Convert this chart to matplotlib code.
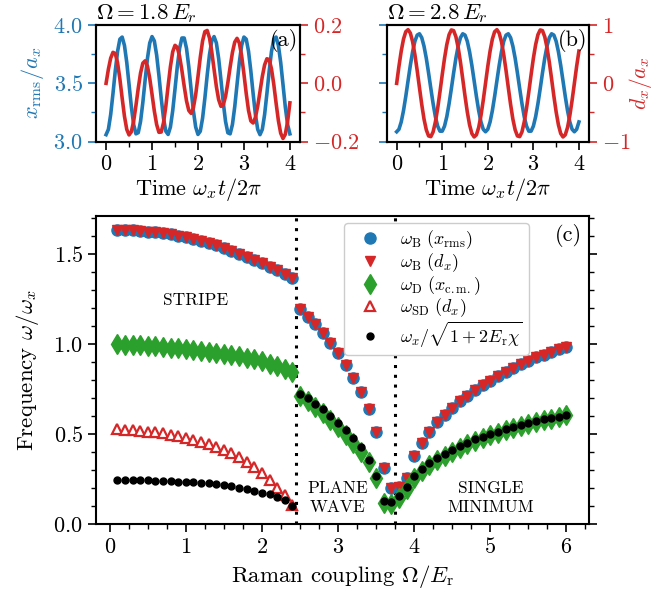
import matplotlib
matplotlib.use("Agg")
import matplotlib.pyplot as plt
import numpy as np
from matplotlib.ticker import MultipleLocator

plt.rcParams.update({
    "font.family": "serif",
    "font.serif": ["cmr10"],
    "mathtext.fontset": "cm",
    "axes.formatter.use_mathtext": True,
    "font.size": 16,
    "axes.linewidth": 1.5,
    "xtick.major.width": 1.2,
    "ytick.major.width": 1.2,
    "xtick.minor.width": 1.0,
    "ytick.minor.width": 1.0,
    "xtick.major.size": 6,
    "ytick.major.size": 6,
    "xtick.minor.size": 3.5,
    "ytick.minor.size": 3.5,
})

BLUE = "#1f77b4"
RED = "#d62728"
GREEN = "#2ca02c"

# --- time traces, sampled every 0.05 in units of 2*pi/omega_x ---
time = np.linspace(0, 4, 81)

xrms_18 = [3.060, 3.105, 3.232, 3.412, 3.606, 3.773, 3.878, 3.896, 3.824, 3.679,
           3.490, 3.299, 3.147, 3.067, 3.077, 3.173, 3.336, 3.529, 3.712, 3.845,
           3.900, 3.863, 3.743, 3.567, 3.372, 3.200, 3.089, 3.062, 3.125, 3.265,
           3.451, 3.643, 3.800, 3.888, 3.888, 3.800, 3.642, 3.450, 3.264, 3.125,
           3.062, 3.089, 3.201, 3.373, 3.568, 3.744, 3.863, 3.900, 3.846, 3.712,
           3.529, 3.335, 3.173, 3.076, 3.067, 3.147, 3.299, 3.490, 3.679, 3.824,
           3.896, 3.878, 3.774, 3.606, 3.412, 3.232, 3.105, 3.060, 3.105, 3.232,
           3.412, 3.606, 3.773, 3.878, 3.896, 3.824, 3.679, 3.490, 3.299, 3.147,
           3.067]
dx_18 = [0.000, 0.048, 0.086, 0.106, 0.102, 0.070, 0.015, -0.051, -0.113, -0.158,
         -0.177, -0.166, -0.130, -0.076, -0.017, 0.035, 0.069, 0.077, 0.059, 0.017,
         -0.038, -0.095, -0.141, -0.168, -0.167, -0.135, -0.079, -0.009, 0.057, 0.108,
         0.130, 0.123, 0.092, 0.044, -0.010, -0.060, -0.093, -0.103, -0.084, -0.039,
         0.023, 0.089, 0.145, 0.177, 0.181, 0.156, 0.108, 0.048, -0.011, -0.056,
         -0.079, -0.074, -0.045, 0.002, 0.056, 0.106, 0.141, 0.154, 0.138, 0.094,
         0.032, -0.035, -0.093, -0.129, -0.136, -0.117, -0.078, -0.028, 0.023, 0.063,
         0.084, 0.081, 0.049, -0.004, -0.068, -0.128, -0.171, -0.189, -0.175, -0.132,
         -0.067]
xrms_28 = [3.085, 3.106, 3.169, 3.266, 3.388, 3.522, 3.654, 3.770, 3.860, 3.913,
           3.924, 3.891, 3.818, 3.715, 3.589, 3.455, 3.325, 3.213, 3.133, 3.090,
           3.090, 3.133, 3.214, 3.325, 3.454, 3.589, 3.715, 3.819, 3.891, 3.924,
           3.913, 3.860, 3.770, 3.654, 3.522, 3.388, 3.266, 3.169, 3.106, 3.085,
           3.106, 3.169, 3.266, 3.388, 3.522, 3.654, 3.770, 3.860, 3.913, 3.924,
           3.891, 3.818, 3.715, 3.589, 3.455, 3.325, 3.213, 3.133, 3.090, 3.090,
           3.133, 3.214, 3.325, 3.454, 3.589, 3.715, 3.819, 3.891, 3.924, 3.913,
           3.860, 3.770, 3.654, 3.522, 3.388, 3.266, 3.169, 3.106, 3.085, 3.106,
           3.169]
dx_28 = [0.000, 0.292, 0.552, 0.757, 0.884, 0.919, 0.860, 0.713, 0.490, 0.220,
         -0.074, -0.361, -0.613, -0.797, -0.902, -0.914, -0.832, -0.661, -0.427, -0.147,
         0.147, 0.427, 0.663, 0.832, 0.914, 0.902, 0.797, 0.611, 0.361, 0.074,
         -0.220, -0.491, -0.712, -0.860, -0.919, -0.883, -0.757, -0.553, -0.291, 0.000,
         0.292, 0.552, 0.757, 0.884, 0.919, 0.860, 0.713, 0.490, 0.220, -0.074,
         -0.361, -0.613, -0.797, -0.902, -0.914, -0.832, -0.661, -0.427, -0.147, 0.147,
         0.427, 0.663, 0.832, 0.914, 0.902, 0.797, 0.611, 0.361, 0.074, -0.220,
         -0.491, -0.712, -0.860, -0.919, -0.883, -0.757, -0.553, -0.291, 0.000, 0.292,
         0.552]

# --- mode frequencies vs Raman coupling ---
raman = [0.1, 0.2, 0.3, 0.4, 0.5, 0.6, 0.7, 0.8, 0.9, 1.0,
         1.1, 1.2, 1.3, 1.4, 1.5, 1.6, 1.7, 1.8, 1.9, 2.0,
         2.1, 2.2, 2.3, 2.4, 2.5, 2.6, 2.7, 2.8, 2.9, 3.0,
         3.1, 3.2, 3.3, 3.4, 3.5, 3.6, 3.7, 3.8, 3.9, 4.0,
         4.1, 4.2, 4.3, 4.4, 4.5, 4.6, 4.7, 4.8, 4.9, 5.0,
         5.1, 5.2, 5.3, 5.4, 5.5, 5.6, 5.7, 5.8, 5.9, 6.0]
omega_breathing = [1.634, 1.633, 1.631, 1.628, 1.624, 1.620, 1.615, 1.609, 1.602, 1.594,
                   1.584, 1.573, 1.561, 1.548, 1.533, 1.518, 1.502, 1.485, 1.467, 1.449,
                   1.430, 1.410, 1.388, 1.365, 1.194, 1.152, 1.109, 1.059, 1.007, 0.948,
                   0.883, 0.813, 0.731, 0.639, 0.513, 0.309, 0.200, 0.204, 0.257, 0.378,
                   0.452, 0.511, 0.567, 0.606, 0.646, 0.685, 0.713, 0.743, 0.770, 0.796,
                   0.822, 0.844, 0.865, 0.887, 0.907, 0.926, 0.941, 0.957, 0.970, 0.985]
omega_dipole = [0.998, 0.997, 0.995, 0.992, 0.989, 0.986, 0.983, 0.979, 0.975, 0.971,
                0.967, 0.962, 0.957, 0.952, 0.946, 0.939, 0.931, 0.923, 0.914, 0.904,
                0.891, 0.876, 0.861, 0.846, 0.711, 0.683, 0.652, 0.618, 0.578, 0.537,
                0.494, 0.452, 0.402, 0.346, 0.254, 0.118, 0.112, 0.143, 0.193, 0.254,
                0.292, 0.326, 0.355, 0.380, 0.403, 0.425, 0.445, 0.464, 0.479, 0.494,
                0.508, 0.521, 0.532, 0.544, 0.555, 0.566, 0.577, 0.586, 0.593, 0.603]
omega_chi = [0.244, 0.244, 0.244, 0.243, 0.243, 0.241, 0.239, 0.237, 0.235, 0.233,
             0.232, 0.230, 0.226, 0.220, 0.215, 0.209, 0.200, 0.193, 0.183, 0.174,
             0.165, 0.148, 0.133, 0.102, 0.724, 0.698, 0.667, 0.637, 0.602, 0.563,
             0.522, 0.476, 0.430, 0.356, 0.267, 0.128, 0.124, 0.158, 0.207, 0.269,
             0.304, 0.337, 0.365, 0.389, 0.411, 0.433, 0.452, 0.471, 0.485, 0.500,
             0.513, 0.526, 0.537, 0.548, 0.559, 0.570, 0.581, 0.589, 0.596, 0.606]
raman_stripe = raman[:24]
omega_spin_dipole = [0.526, 0.524, 0.520, 0.519, 0.513, 0.509, 0.504, 0.496, 0.487, 0.478,
                     0.467, 0.456, 0.443, 0.428, 0.411, 0.393, 0.370, 0.346, 0.319, 0.285,
                     0.244, 0.198, 0.159, 0.106]
transitions = [2.45, 3.75]


fig = plt.figure(figsize=(6.56, 6.08), dpi=100)

panels = [
    ([0.1463, 0.767, 0.311, 0.192], xrms_18, dx_18, r"$\Omega = 1.8\,E_r$", "(a)", (-0.2, 0.2), 0.1),
    ([0.5894, 0.767, 0.3084, 0.192], xrms_28, dx_28, r"$\Omega = 2.8\,E_r$", "(b)", (-1.0, 1.0), 0.5),
]
for i, (rect, xrms, dx, title, tag, dlim, dminor) in enumerate(panels):
    ax = fig.add_axes(rect)
    ax.plot(time, xrms, color=BLUE, lw=2.6)
    ax.set_ylim(3.0, 4.0)
    ax.set_xlim(-0.22, 4.22)
    ax.xaxis.set_major_locator(MultipleLocator(1))
    ax.xaxis.set_minor_locator(MultipleLocator(0.5))
    ax.yaxis.set_major_locator(MultipleLocator(0.5))
    ax.yaxis.set_minor_locator(MultipleLocator(0.25))
    ax.tick_params(which="both", direction="out", top=False)
    ax.tick_params(axis="y", which="both", colors=BLUE)
    ax.set_xlabel(r"Time $\omega_x t/2\pi$", labelpad=1)
    ax.set_title(title, loc="left", pad=4, fontsize=16.5)
    if i == 0:
        ax.set_ylabel(r"$x_{\rm rms}/a_x$", color=BLUE, labelpad=5)
    else:
        ax.tick_params(axis="y", labelleft=False)

    tw = ax.twinx()
    tw.plot(time, dx, color=RED, lw=2.6)
    tw.set_ylim(*dlim)
    tw.yaxis.set_major_locator(MultipleLocator(dminor * 2))
    tw.yaxis.set_minor_locator(MultipleLocator(dminor))
    tw.tick_params(axis="y", which="both", direction="out", colors=RED)
    if i == 1:
        tw.set_ylabel(r"$d_x/a_x$", color=RED, fontsize=15.5, labelpad=-3)
    tw.text(0.99, 0.965, tag, transform=tw.transAxes, ha="right", va="top", fontsize=16)

# --- panel (c): frequencies ---
ax = fig.add_axes([0.1463, 0.138, 0.752, 0.5066])
for xt in transitions:
    ax.axvline(xt, color="k", ls=(0, (1, 2.2)), lw=2.2, zorder=1)

ax.plot(raman, omega_breathing, "o", color=BLUE, ms=8, ls="none",
        label=r"$\omega_{\rm B}\ (x_{\rm rms})$", zorder=2)
ax.plot(raman, omega_breathing, "v", color=RED, ms=7.5, ls="none",
        label=r"$\omega_{\rm B}\ (d_x)$", zorder=3)
ax.plot(raman, omega_dipole, "d", color=GREEN, ms=10, ls="none",
        label=r"$\omega_{\rm D}\ (x_{\rm c.m.})$", zorder=3)
ax.plot(raman_stripe, omega_spin_dipole, "^", mfc="white", mec=RED, mew=1.6, ms=7.5,
        ls="none", label=r"$\omega_{\rm SD}\ (d_x)$", zorder=3)
ax.plot(raman, omega_chi, "o", color="k", ms=5, ls="none",
        label=r"$\omega_x/\sqrt{1+2E_{\rm r}\chi}$", zorder=4)

ax.set_xlim(-0.18, 6.3)
ax.set_ylim(0, 1.71)
ax.xaxis.set_major_locator(MultipleLocator(1))
ax.xaxis.set_minor_locator(MultipleLocator(0.25))
ax.yaxis.set_major_locator(MultipleLocator(0.5))
ax.yaxis.set_minor_locator(MultipleLocator(0.1))
ax.tick_params(which="both", direction="out", top=False, right=True)
ax.set_xlabel(r"Raman coupling $\Omega/E_{\rm r}$", fontsize=16.5)
ax.set_ylabel(r"Frequency $\omega/\omega_x$", fontsize=16.5, labelpad=9)

ax.text(1.13, 1.244, "STRIPE", ha="center", va="center", fontsize=12.5)
ax.text(3.0, 0.148, "PLANE\nWAVE", ha="center", va="center", fontsize=12.5, linespacing=1.3)
ax.text(5.0, 0.145, "SINGLE\nMINIMUM", ha="center", va="center", fontsize=12.5, linespacing=1.3)
ax.text(0.985, 0.975, "(c)", transform=ax.transAxes, ha="right", va="top", fontsize=16)

leg = ax.legend(loc="upper right", bbox_to_anchor=(0.877, 0.977), borderaxespad=0,
                fontsize=13, framealpha=1, edgecolor="0.8", borderpad=0.3,
                labelspacing=0.0, handletextpad=0.6, handlelength=2.2)
leg.set_zorder(10)

fig.savefig("out.png", dpi=100)
